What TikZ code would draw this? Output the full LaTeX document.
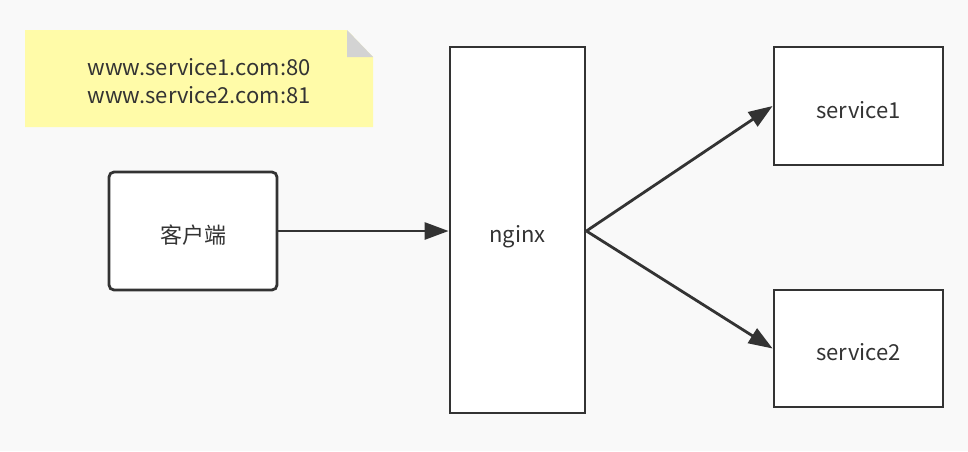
\documentclass[tikz,border=0pt]{standalone}
\usepackage{fontspec}
\setmainfont{Noto Sans CJK SC}
\usetikzlibrary{arrows.meta}
\definecolor{bg}{HTML}{F9F9F9}
\definecolor{ink}{HTML}{333333}
\definecolor{notefill}{HTML}{FFFBA8}
\definecolor{foldgray}{HTML}{D3D3D3}
\tikzset{
  box/.style={draw=ink, line width=2.8pt, fill=white, inner sep=0pt, font=\fontsize{22}{26}\selectfont, text=ink},
  lbl/.style={text=ink, font=\fontsize{22}{26}\selectfont, inner sep=0pt},
  conn/.style={draw=ink, line width=2.8pt, -{Triangle[length=24pt,width=17pt]}, shorten >=0pt}
}
\begin{document}
\begin{tikzpicture}[x=1pt,y=-1pt]
\fill[bg] (0,0) rectangle (968,451);
\useasboundingbox (0,0) rectangle (968,451);
% note
\fill[notefill] (25,30) -- (347,30) -- (373,57) -- (373,127) -- (25,127) -- cycle;
\fill[foldgray] (347,30) -- (347,57) -- (373,57) -- cycle;
\node[lbl, font=\fontsize{22}{28}\selectfont, align=center] (note) at (199,81) {www.service1.com:80\\www.service2.com:81};
% boxes
\node[box, rounded corners=5pt, minimum width=168pt, minimum height=118pt] (client) at (193,231) {};
\node[lbl] (clientlbl) at (193,235) {客户端};
\node[box, minimum width=135pt, minimum height=366pt] (nginx) at (517.5,230) {};
\node[lbl] (nginxlbl) at (517.5,237) {nginx};
\node[box, minimum width=169pt, minimum height=118pt] (s1) at (858.5,106) {};
\node[lbl] (s1lbl) at (858.5,110) {service1};
\node[box, minimum width=169pt, minimum height=117pt] (s2) at (858.5,348.5) {};
\node[lbl] (s2lbl) at (858.5,352) {service2};
% connectors
\draw[conn] (client.east) -- (client.east -| nginx.west);
\coordinate (split) at (nginx.east |- client.east);
\draw[conn] (split) -- (s1.west);
\draw[conn] (split) -- (s2.west);
\end{tikzpicture}
\end{document}
